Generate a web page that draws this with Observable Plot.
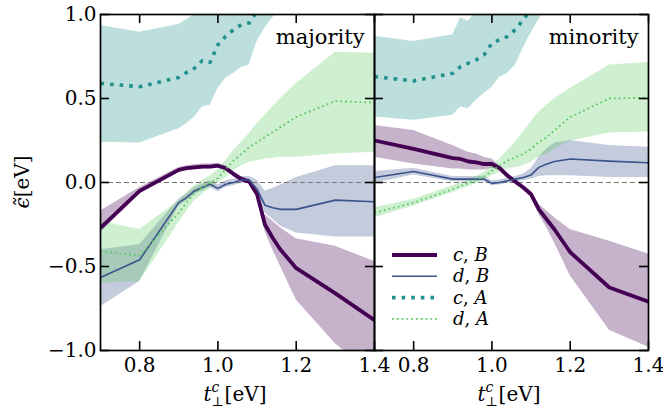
<!DOCTYPE html>
<html><head><meta charset="utf-8">
<script src="https://cdn.jsdelivr.net/npm/d3@7"></script>
<script src="https://cdn.jsdelivr.net/npm/@observablehq/plot@0.6"></script>
<style>body{margin:0;background:#fff} svg text{font-family:"DejaVu Serif","Liberation Serif",serif;}</style>
</head><body><div id="chart"></div>
<script>
// ---------- data ----------
const panels = ["majority", "minority"];
const xTicks = [0.8, 1.0, 1.2, 1.4];
const yTicks = [-1, -0.5, 0, 0.5, 1];
const xs = [0.7, 0.8, 0.9, 0.92, 0.94, 0.96, 0.98, 1.0, 1.02, 1.04, 1.06, 1.08, 1.1, 1.12, 1.14, 1.16, 1.2, 1.3, 1.4];

// majority
const cB_maj    = [-0.27, -0.05, 0.075, 0.085, 0.09, 0.095, 0.095, 0.10, 0.085, 0.05, 0.02, 0.005, -0.07, -0.25, -0.33, -0.40, -0.51, -0.66, -0.82];
const cB_maj_lo = [-0.30, -0.07, 0.06, 0.07, 0.075, 0.08, 0.08, 0.085, 0.07, 0.035, 0.005, -0.01, -0.09, -0.29, -0.40, -0.50, -0.70, -0.96, -1.15];
const cB_maj_hi = [-0.17, -0.03, 0.09, 0.10, 0.105, 0.11, 0.11, 0.115, 0.10, 0.065, 0.035, 0.02, -0.05, -0.19, -0.23, -0.27, -0.335, -0.38, -0.47];

const dB_maj    = [-0.565, -0.46, -0.12, -0.09, -0.05, -0.03, -0.01, -0.035, -0.01, 0.0, 0.015, 0.015, -0.04, -0.135, -0.15, -0.16, -0.16, -0.105, -0.115];
const dB_maj_lo = [-0.74, -0.59, -0.14, -0.11, -0.07, -0.05, -0.03, -0.055, -0.03, -0.02, -0.005, -0.005, -0.07, -0.18, -0.22, -0.26, -0.30, -0.325, -0.325];
const dB_maj_hi = [-0.40, -0.37, -0.10, -0.07, -0.03, -0.01, 0.01, -0.015, 0.01, 0.02, 0.035, 0.035, 0.015, -0.05, -0.035, -0.015, 0.03, 0.10, 0.10];

const cA_maj    = [0.59, 0.57, 0.625, 0.655, 0.68, 0.725, 0.715, 0.82, 0.87, 0.91, 0.94, 0.95, 1.02, 1.06, 1.1, 1.14, 1.2, 1.3, 1.3];
const cA_maj_lo = [0.24, 0.235, 0.32, 0.35, 0.39, 0.45, 0.46, 0.56, 0.62, 0.65, 0.685, 0.70, 0.84, 0.92, 0.98, 1.04, 1.1, 1.2, 1.2];
const cA_maj_hi = [0.935, 0.895, 0.94, 0.97, 1.0, 1.05, 1.08, 1.1, 1.15, 1.2, 1.25, 1.3, 1.35, 1.4, 1.45, 1.5, 1.55, 1.6, 1.6];

const dA_maj    = [-0.41, -0.435, -0.18, -0.12, -0.065, -0.03, 0.0, 0.025, 0.08, 0.13, 0.17, 0.21, 0.24, 0.27, 0.30, 0.33, 0.39, 0.485, 0.475];
const dA_maj_lo = [-0.60, -0.59, -0.24, -0.17, -0.11, -0.07, -0.035, -0.005, 0.03, 0.07, 0.10, 0.12, 0.13, 0.14, 0.145, 0.15, 0.15, 0.17, 0.18];
const dA_maj_hi = [-0.23, -0.28, -0.11, -0.06, -0.02, 0.01, 0.04, 0.075, 0.13, 0.19, 0.24, 0.29, 0.35, 0.40, 0.45, 0.50, 0.59, 0.775, 0.77];

// minority
const cB_min    = [0.25, 0.20, 0.145, 0.14, 0.125, 0.12, 0.11, 0.11, 0.085, 0.04, 0.005, -0.03, -0.07, -0.16, -0.22, -0.28, -0.415, -0.625, -0.71];
const cB_min_lo = [0.15, 0.11, 0.08, 0.08, 0.075, 0.075, 0.075, 0.085, 0.07, 0.025, -0.01, -0.045, -0.09, -0.19, -0.27, -0.36, -0.555, -0.88, -0.98];
const cB_min_hi = [0.34, 0.31, 0.22, 0.20, 0.18, 0.17, 0.15, 0.14, 0.10, 0.055, 0.02, -0.015, -0.05, -0.13, -0.17, -0.21, -0.28, -0.35, -0.425];

const dB_min    = [0.03, 0.065, 0.02, 0.02, 0.02, 0.02, 0.02, -0.005, 0.0, 0.01, 0.02, 0.03, 0.045, 0.09, 0.11, 0.125, 0.14, 0.127, 0.117];
const dB_min_lo = [-0.005, 0.045, 0.005, 0.005, 0.005, 0.005, 0.005, -0.02, -0.015, -0.005, 0.005, 0.01, 0.02, 0.035, 0.04, 0.04, 0.04, 0.03, 0.03];
const dB_min_hi = [0.065, 0.085, 0.035, 0.035, 0.035, 0.035, 0.035, 0.01, 0.015, 0.025, 0.035, 0.05, 0.08, 0.15, 0.20, 0.235, 0.25, 0.22, 0.21];

const cA_min    = [0.63, 0.605, 0.65, 0.69, 0.71, 0.73, 0.76, 0.83, 0.85, 0.87, 0.91, 0.97, 1.03, 1.08, 1.12, 1.16, 1.2, 1.3, 1.3];
const cA_min_lo = [0.39, 0.37, 0.40, 0.45, 0.44, 0.49, 0.53, 0.567, 0.627, 0.65, 0.70, 0.80, 0.89, 0.97, 1.05, 1.1, 1.15, 1.2, 1.2];
const cA_min_hi = [0.87, 0.84, 0.88, 0.98, 0.96, 1.02, 1.05, 1.1, 1.15, 1.2, 1.25, 1.3, 1.35, 1.4, 1.45, 1.5, 1.55, 1.6, 1.6];

const dA_min    = [-0.18, -0.12, -0.04, -0.02, -0.005, 0.015, 0.035, 0.07, 0.10, 0.13, 0.15, 0.17, 0.20, 0.24, 0.27, 0.31, 0.39, 0.50, 0.505];
const dA_min_lo = [-0.21, -0.14, -0.06, -0.04, -0.025, -0.005, 0.015, 0.04, 0.06, 0.08, 0.09, 0.10, 0.12, 0.15, 0.17, 0.20, 0.245, 0.295, 0.30];
const dA_min_hi = [-0.15, -0.10, -0.02, 0.0, 0.015, 0.035, 0.06, 0.10, 0.14, 0.19, 0.24, 0.30, 0.36, 0.42, 0.46, 0.50, 0.56, 0.70, 0.715];

const seriesKeys = ["cB", "dB", "cA", "dA"];
const seriesLabels = {cB: ["c", "B"], dB: ["d", "B"], cA: ["c", "A"], dA: ["d", "A"]};

// ---------- styles ----------
const styles = {
  cB: {color: "#440154", width: 3.8, dash: null},
  dB: {color: "#3b528b", width: 1.6, dash: null},
  cA: {color: "#21918c", width: 3.6, dash: "3.6,6"},
  dA: {color: "#5ec962", width: 1.8, dash: "1.8,3"}
};

// ---------- table ----------
const table = {
  majority: {cB: [cB_maj, cB_maj_lo, cB_maj_hi], dB: [dB_maj, dB_maj_lo, dB_maj_hi], cA: [cA_maj, cA_maj_lo, cA_maj_hi], dA: [dA_maj, dA_maj_lo, dA_maj_hi]},
  minority: {cB: [cB_min, cB_min_lo, cB_min_hi], dB: [dB_min, dB_min_lo, dB_min_hi], cA: [cA_min, cA_min_lo, cA_min_hi], dA: [dA_min, dA_min_lo, dA_min_hi]}
};
const rows = [];
for (const p of panels) for (const s of seriesKeys) {
  const [m, lo, hi] = table[p][s];
  xs.forEach((x, i) => rows.push({panel: p, series: s, x, y: m[i], lo: lo[i], hi: hi[i]}));
}

const W = 663, H = 409, mL = 100, mR = 15, mT = 14, mB = 59;
const frameH = H - mT - mB;
const facetW = (W - mL - mR) / 2;
const tickLen = 9;
const fmt = d3.format(".1f");
const FONT = "DejaVu Serif";

const marks = [];
for (const s of seriesKeys) {
  marks.push(Plot.areaY(rows.filter(r => r.series === s), {
    x: "x", y1: "lo", y2: "hi", fx: "panel", fill: styles[s].color, fillOpacity: 0.3, clip: true
  }));
}
marks.push(Plot.ruleY([0], {stroke: "#777", strokeWidth: 1, strokeDasharray: "5,3"}));
for (const s of seriesKeys) {
  marks.push(Plot.lineY(rows.filter(r => r.series === s), {
    x: "x", y: "y", fx: "panel", stroke: styles[s].color, strokeWidth: styles[s].width,
    strokeDasharray: styles[s].dash, strokeLinecap: "butt", strokeLinejoin: "round", clip: true
  }));
}
// inward ticks on all four sides of each panel
marks.push(Plot.tickX(xTicks, {x: d => d, insetTop: frameH - tickLen, stroke: "black", strokeWidth: 1.6}));
marks.push(Plot.tickX(xTicks, {x: d => d, insetBottom: frameH - tickLen, stroke: "black", strokeWidth: 1.6}));
marks.push(Plot.tickY(yTicks, {y: d => d, insetRight: facetW - tickLen, stroke: "black", strokeWidth: 1.6}));
marks.push(Plot.tickY(yTicks, {y: d => d, insetLeft: facetW - tickLen, stroke: "black", strokeWidth: 1.6}));
marks.push(Plot.frame({stroke: "black", strokeWidth: 1.7}));
marks.push(Plot.axisX({ticks: xTicks, tickSize: 0, tickPadding: 7, tickFormat: fmt, label: null}));
marks.push(Plot.axisY({ticks: yTicks, tickSize: 0, tickPadding: 4, tickFormat: fmt, label: null}));
marks.push(Plot.text(panels, {fx: d => d, text: d => d, frameAnchor: "top-right", textAnchor: "end", lineAnchor: "top", dx: -10, dy: 15, fontSize: 21, fill: "black"}));

const chart = Plot.plot({
  width: W, height: H,
  marginLeft: mL, marginRight: mR, marginTop: mT, marginBottom: mB,
  style: {fontFamily: FONT, fontSize: "20px", color: "black", background: "white"},
  fx: {domain: panels, padding: 0, axis: null, label: null},
  x: {domain: [0.7, 1.4]},
  y: {domain: [-1, 1]},
  marks
});
document.getElementById("chart").appendChild(chart);

const svg = d3.select(chart);
svg.selectAll('[aria-label="x-axis tick label"], [aria-label="y-axis tick label"]')
  .attr("font-size", 20).selectAll("text").attr("font-size", 20);

// ---------- labels & legend ----------
const fxScale = chart.scale("fx");

// x labels under each panel
for (const p of panels) {
  const cx = fxScale.apply(p) + facetW / 2 - 2;
  const t = svg.append("text").attr("x", cx).attr("y", 401).attr("text-anchor", "middle")
    .attr("font-size", 20).attr("fill", "black");
  t.append("tspan").attr("font-style", "italic").text("t");
  t.append("tspan").attr("font-style", "italic").attr("font-size", 14).attr("dy", -9).text("c");
  t.append("tspan").attr("font-size", 13).attr("dx", -8).attr("dy", 14).text("⊥");
  t.append("tspan").attr("dy", -5).attr("dx", 1).text("[eV]");
}
// y label
{
  const t = svg.append("text").attr("transform", `translate(29,${mT + frameH / 2}) rotate(-90)`)
    .attr("text-anchor", "middle").attr("font-size", 20).attr("fill", "black");
  t.append("tspan").attr("font-style", "italic").text("\u03F5\u0303");
  t.append("tspan").text("[eV]");
}
// legend in the minority panel
{
  const x0 = fxScale.apply("minority") + 18;
  const g = svg.append("g");
  seriesKeys.forEach((s, i) => {
    const yy = 255 + i * 21.3;
    g.append("line").attr("x1", x0).attr("x2", x0 + 45).attr("y1", yy).attr("y2", yy)
      .attr("stroke", styles[s].color).attr("stroke-width", styles[s].width)
      .attr("stroke-dasharray", styles[s].dash);
    const t = g.append("text").attr("x", x0 + 61).attr("y", yy + 6).attr("text-anchor", "start")
      .attr("font-size", 18).attr("fill", "black");
    t.append("tspan").attr("font-style", "italic").text(seriesLabels[s][0]);
    t.append("tspan").text(", ");
    t.append("tspan").attr("font-style", "italic").text(seriesLabels[s][1]);
  });
}
</script>
</body></html>
